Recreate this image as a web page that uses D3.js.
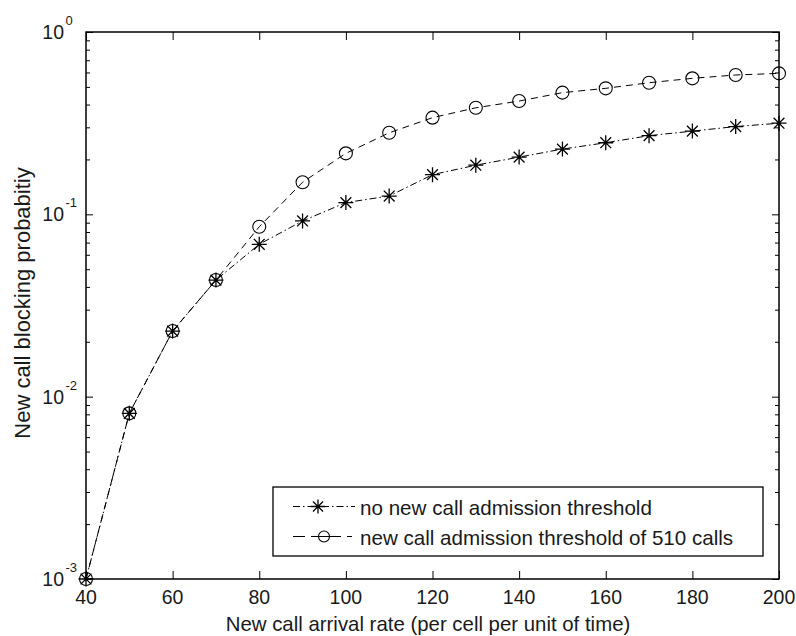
<!DOCTYPE html>
<html>
<head>
<meta charset="utf-8">
<script src="https://cdn.jsdelivr.net/npm/d3@7"></script>
<style>
  html, body { margin: 0; padding: 0; background: #fff; }
  svg text { font-family: "Liberation Sans", Arial, sans-serif; fill: #1a1a1a; }
</style>
</head>
<body>
<svg id="chart" width="796" height="636"></svg>
<script>
// ---- data ----
const arrivalRate = [40, 50, 60, 70, 80, 90, 100, 110, 120, 130, 140, 150, 160, 170, 180, 190, 200];
const noThreshold = [0.001, 0.0081, 0.0229, 0.0436, 0.0685, 0.092, 0.116, 0.126, 0.165, 0.186, 0.206, 0.228, 0.247, 0.270, 0.286, 0.303, 0.316];
const threshold510 = [0.001, 0.0081, 0.0229, 0.0436, 0.0855, 0.150, 0.216, 0.280, 0.339, 0.384, 0.418, 0.465, 0.491, 0.527, 0.557, 0.581, 0.593];
const xTicks = [40, 60, 80, 100, 120, 140, 160, 180, 200];
const yDecades = [0.001, 0.01, 0.1, 1];
const yDecadeExponents = ["-3", "-2", "-1", "0"];
const seriesNames = ["no new call admission threshold", "new call admission threshold of 510 calls"];
const xLabel = "New call arrival rate (per cell per unit of time)";
const yLabel = "New call blocking probabitiy";

// ---- layout ----
const W = 796, H = 636;
const L = 86, R = 779, T = 32, B = 579;
const svg = d3.select("#chart");

const x = d3.scaleLinear().domain([40, 200]).range([L, R]);
const y = d3.scaleLog().domain([0.001, 1]).range([B, T]);

// minor tick values
const yMinor = [];
for (let d = 0; d < 3; d++) {
  const base = yDecades[d];
  for (let k = 2; k <= 9; k++) yMinor.push(base * k);
}

// ---- axes (ticks inside) ----
function styleAxis(g) {
  g.select(".domain").remove();
  g.selectAll(".tick line").attr("stroke", "#000").attr("stroke-width", 1);
  g.selectAll(".tick text").remove();
}
svg.append("g").attr("transform", `translate(0,${B})`)
  .call(d3.axisBottom(x).tickValues(xTicks).tickSize(-8).tickFormat("")).call(styleAxis);
svg.append("g").attr("transform", `translate(0,${T})`)
  .call(d3.axisTop(x).tickValues(xTicks).tickSize(-8).tickFormat("")).call(styleAxis);
svg.append("g").attr("transform", `translate(${L},0)`)
  .call(d3.axisLeft(y).tickValues(yDecades).tickSize(-7).tickFormat("")).call(styleAxis);
svg.append("g").attr("transform", `translate(${R},0)`)
  .call(d3.axisRight(y).tickValues(yDecades).tickSize(-7).tickFormat("")).call(styleAxis);
svg.append("g").attr("transform", `translate(${L},0)`)
  .call(d3.axisLeft(y).tickValues(yMinor).tickSize(-4).tickFormat("")).call(styleAxis);
svg.append("g").attr("transform", `translate(${R},0)`)
  .call(d3.axisRight(y).tickValues(yMinor).tickSize(-4).tickFormat("")).call(styleAxis);

// box
svg.append("rect").attr("x", L).attr("y", T).attr("width", R - L).attr("height", B - T)
  .attr("fill", "none").attr("stroke", "#000").attr("stroke-width", 1.5);

// x tick labels
svg.append("g").selectAll("text").data(xTicks).join("text")
  .attr("x", d => x(d)).attr("y", 604).attr("text-anchor", "middle")
  .style("font-size", "19.5px").text(d => d);

// y tick labels with superscripts
const yl = svg.append("g").selectAll("g").data(yDecades).join("g");
yl.append("text").attr("x", 64).attr("y", d => y(d) + 7).attr("text-anchor", "end")
  .style("font-size", "19.5px").text("10");
yl.append("text").attr("x", 65.5).attr("y", d => y(d) - 7).attr("text-anchor", "start")
  .style("font-size", "13px").text((d, i) => yDecadeExponents[i]);

// axis labels
svg.append("text").attr("x", 428).attr("y", 631).attr("text-anchor", "middle")
  .style("font-size", "20.4px").text(xLabel);
svg.append("text").attr("transform", "translate(30,303) rotate(-90)").attr("text-anchor", "middle")
  .style("font-size", "22px").text(yLabel);

// ---- series ----
const line = d3.line().x((d, i) => x(arrivalRate[i])).y(d => y(d));
svg.append("path").datum(threshold510).attr("d", line)
  .attr("fill", "none").attr("stroke", "#000").attr("stroke-width", 1)
  .attr("stroke-dasharray", "7,5");
svg.append("path").datum(noThreshold).attr("d", line)
  .attr("fill", "none").attr("stroke", "#000").attr("stroke-width", 1)
  .attr("stroke-dasharray", "7,3,1.5,3");

function star(g, cx, cy, r) {
  const a = r * 0.72;
  const p = `M${cx - r},${cy}L${cx + r},${cy}M${cx},${cy - r}L${cx},${cy + r}` +
            `M${cx - a},${cy - a}L${cx + a},${cy + a}M${cx - a},${cy + a}L${cx + a},${cy - a}`;
  g.append("path").attr("d", p).attr("stroke", "#000").attr("stroke-width", 1.3).attr("fill", "none");
}
const circG = svg.append("g");
circG.selectAll("circle").data(threshold510).join("circle")
  .attr("cx", (d, i) => x(arrivalRate[i])).attr("cy", d => y(d)).attr("r", 6.5)
  .attr("fill", "none").attr("stroke", "#000").attr("stroke-width", 1.1);
const starG = svg.append("g");
noThreshold.forEach((d, i) => star(starG, x(arrivalRate[i]), y(d), 7.5));

// ---- legend ----
const lg = svg.append("g");
lg.append("rect").attr("x", 273).attr("y", 487).attr("width", 490).attr("height", 69)
  .attr("fill", "#fff").attr("stroke", "#000").attr("stroke-width", 1.3);
const rows = [506.5, 536.5];
lg.append("line").attr("x1", 293).attr("x2", 355).attr("y1", rows[0]).attr("y2", rows[0])
  .attr("stroke", "#000").attr("stroke-dasharray", "7,3,1.5,3");
star(lg, 318, rows[0], 7);
lg.append("line").attr("x1", 293).attr("x2", 352).attr("y1", rows[1]).attr("y2", rows[1])
  .attr("stroke", "#000").attr("stroke-dasharray", "12,6");
lg.append("circle").attr("cx", 324).attr("cy", rows[1]).attr("r", 5.5)
  .attr("fill", "#fff").attr("stroke", "#000").attr("stroke-width", 1.1);
lg.append("line").attr("x1", 318.5).attr("x2", 329.5).attr("y1", rows[1]).attr("y2", rows[1])
  .attr("stroke", "#000");
lg.selectAll("text.lt").data(seriesNames).join("text").attr("class", "lt")
  .attr("x", 360).attr("y", (d, i) => rows[i] + 8.5)
  .style("font-size", "20.6px").text(d => d);
</script>
</body>
</html>
